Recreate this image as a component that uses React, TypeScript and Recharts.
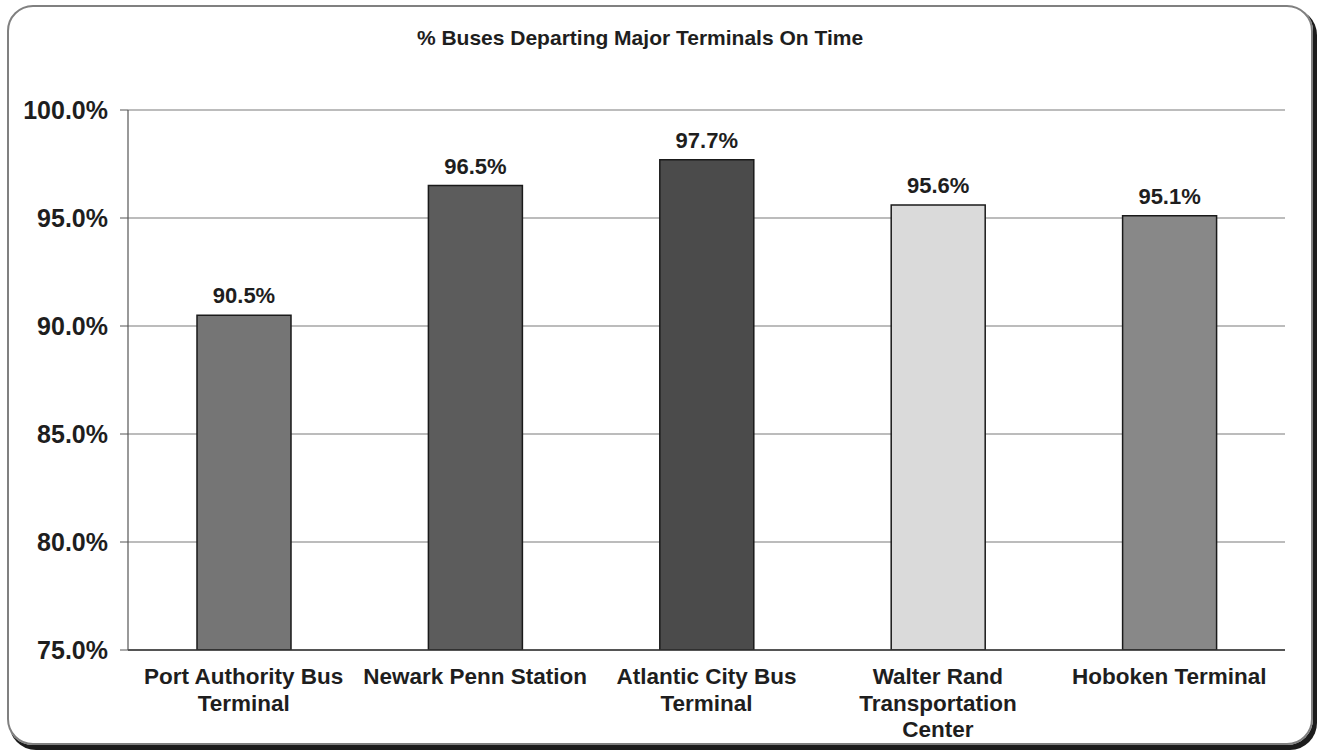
import { Bar, BarChart, CartesianGrid, Cell, LabelList, ReferenceLine, XAxis, YAxis } from 'recharts';

/* ─────────────── data ─────────────── */

const terminals = [
  'Port Authority Bus\nTerminal',
  'Newark Penn Station',
  'Atlantic City Bus\nTerminal',
  'Walter Rand\nTransportation\nCenter',
  'Hoboken Terminal',
];
const onTime = [90.5, 96.5, 97.7, 95.6, 95.1];
const barColors = ['#757575', '#5c5c5c', '#4b4b4b', '#dadada', '#888888'];
const yTicks = [75, 80, 85, 90, 95, 100];
const edgeTicks = [0, 1, 2, 3, 4, 5];

const chartData = terminals.map((name, i) => ({ name, value: onTime[i] }));

const FONT = '"Liberation Sans", Arial, sans-serif';

interface TickProps {
  x?: number;
  y?: number;
  payload?: { value: string };
}

function TerminalTick({ x = 0, y = 0, payload }: TickProps) {
  const lines = String(payload?.value ?? '').split('\n');
  return (
    <text x={x} y={y + 26} textAnchor="middle" fill="#1e1e1e" fontSize={22.5} fontWeight="bold" fontFamily={FONT}>
      {lines.map((line, i) => (
        <tspan key={line} x={x} dy={i === 0 ? 0 : 26.5}>
          {line}
        </tspan>
      ))}
    </text>
  );
}

export default function App() {
  return (
    <div style={{ position: 'fixed', left: 0, top: 0, width: 1318, height: 750, background: '#fff' }}>
      <div
        style={{
          position: 'absolute',
          left: 7,
          top: 5,
          width: 1302,
          height: 736,
          border: '2px solid #808080',
          borderRadius: 26,
          boxShadow: '3px 4px 0 1px #1c1c1c',
        }}
      />
      <div
        style={{
          position: 'absolute',
          left: 0,
          top: 26,
          width: 1280,
          textAlign: 'center',
          fontFamily: FONT,
          fontWeight: 'bold',
          fontSize: 21,
          color: '#1e1e1e',
        }}
      >
        % Buses Departing Major Terminals On Time
      </div>
      <div style={{ position: 'absolute', left: 0, top: 0 }}>
        <BarChart width={1318} height={750} data={chartData} margin={{ top: 110, right: 33, left: 0, bottom: 0 }}>
          <CartesianGrid vertical={false} stroke="#7a7a7a" strokeWidth={1.2} />
          <XAxis
            xAxisId="edges"
            type="number"
            domain={[0, 5]}
            allowDataOverflow
            ticks={edgeTicks}
            tick={false}
            axisLine={false}
            tickLine={{ stroke: '#555', strokeWidth: 1.2 }}
            tickSize={7}
            height={0}
          />
          <XAxis
            xAxisId="cat"
            dataKey="name"
            interval={0}
            tick={<TerminalTick />}
            tickLine={false}
            axisLine={{ stroke: '#333', strokeWidth: 1.5 }}
            height={100}
          />
          <YAxis
            domain={[75, 100]}
            ticks={yTicks}
            allowDataOverflow
            width={128}
            tickFormatter={(v: number) => `${v.toFixed(1)}%`}
            tick={{ fill: '#1e1e1e', fontSize: 25, fontWeight: 'bold', fontFamily: FONT }}
            tickSize={8}
            tickMargin={12}
            tickLine={{ stroke: '#555' }}
            axisLine={{ stroke: '#555', strokeWidth: 1.2 }}
          />
          <ReferenceLine xAxisId="edges" x={5} stroke="#7a7a7a" strokeWidth={1.2} />
          <Bar xAxisId="cat" dataKey="value" barSize={94} stroke="#1a1a1a" strokeWidth={1.5} isAnimationActive={false}>
            {chartData.map((d, i) => (
              <Cell key={d.name} fill={barColors[i]} />
            ))}
            <LabelList
              dataKey="value"
              position="top"
              offset={12}
              formatter={(v: number) => `${v.toFixed(1)}%`}
              fill="#1e1e1e"
              fontSize={22}
              fontWeight="bold"
              fontFamily={FONT}
            />
          </Bar>
        </BarChart>
      </div>
    </div>
  );
}
